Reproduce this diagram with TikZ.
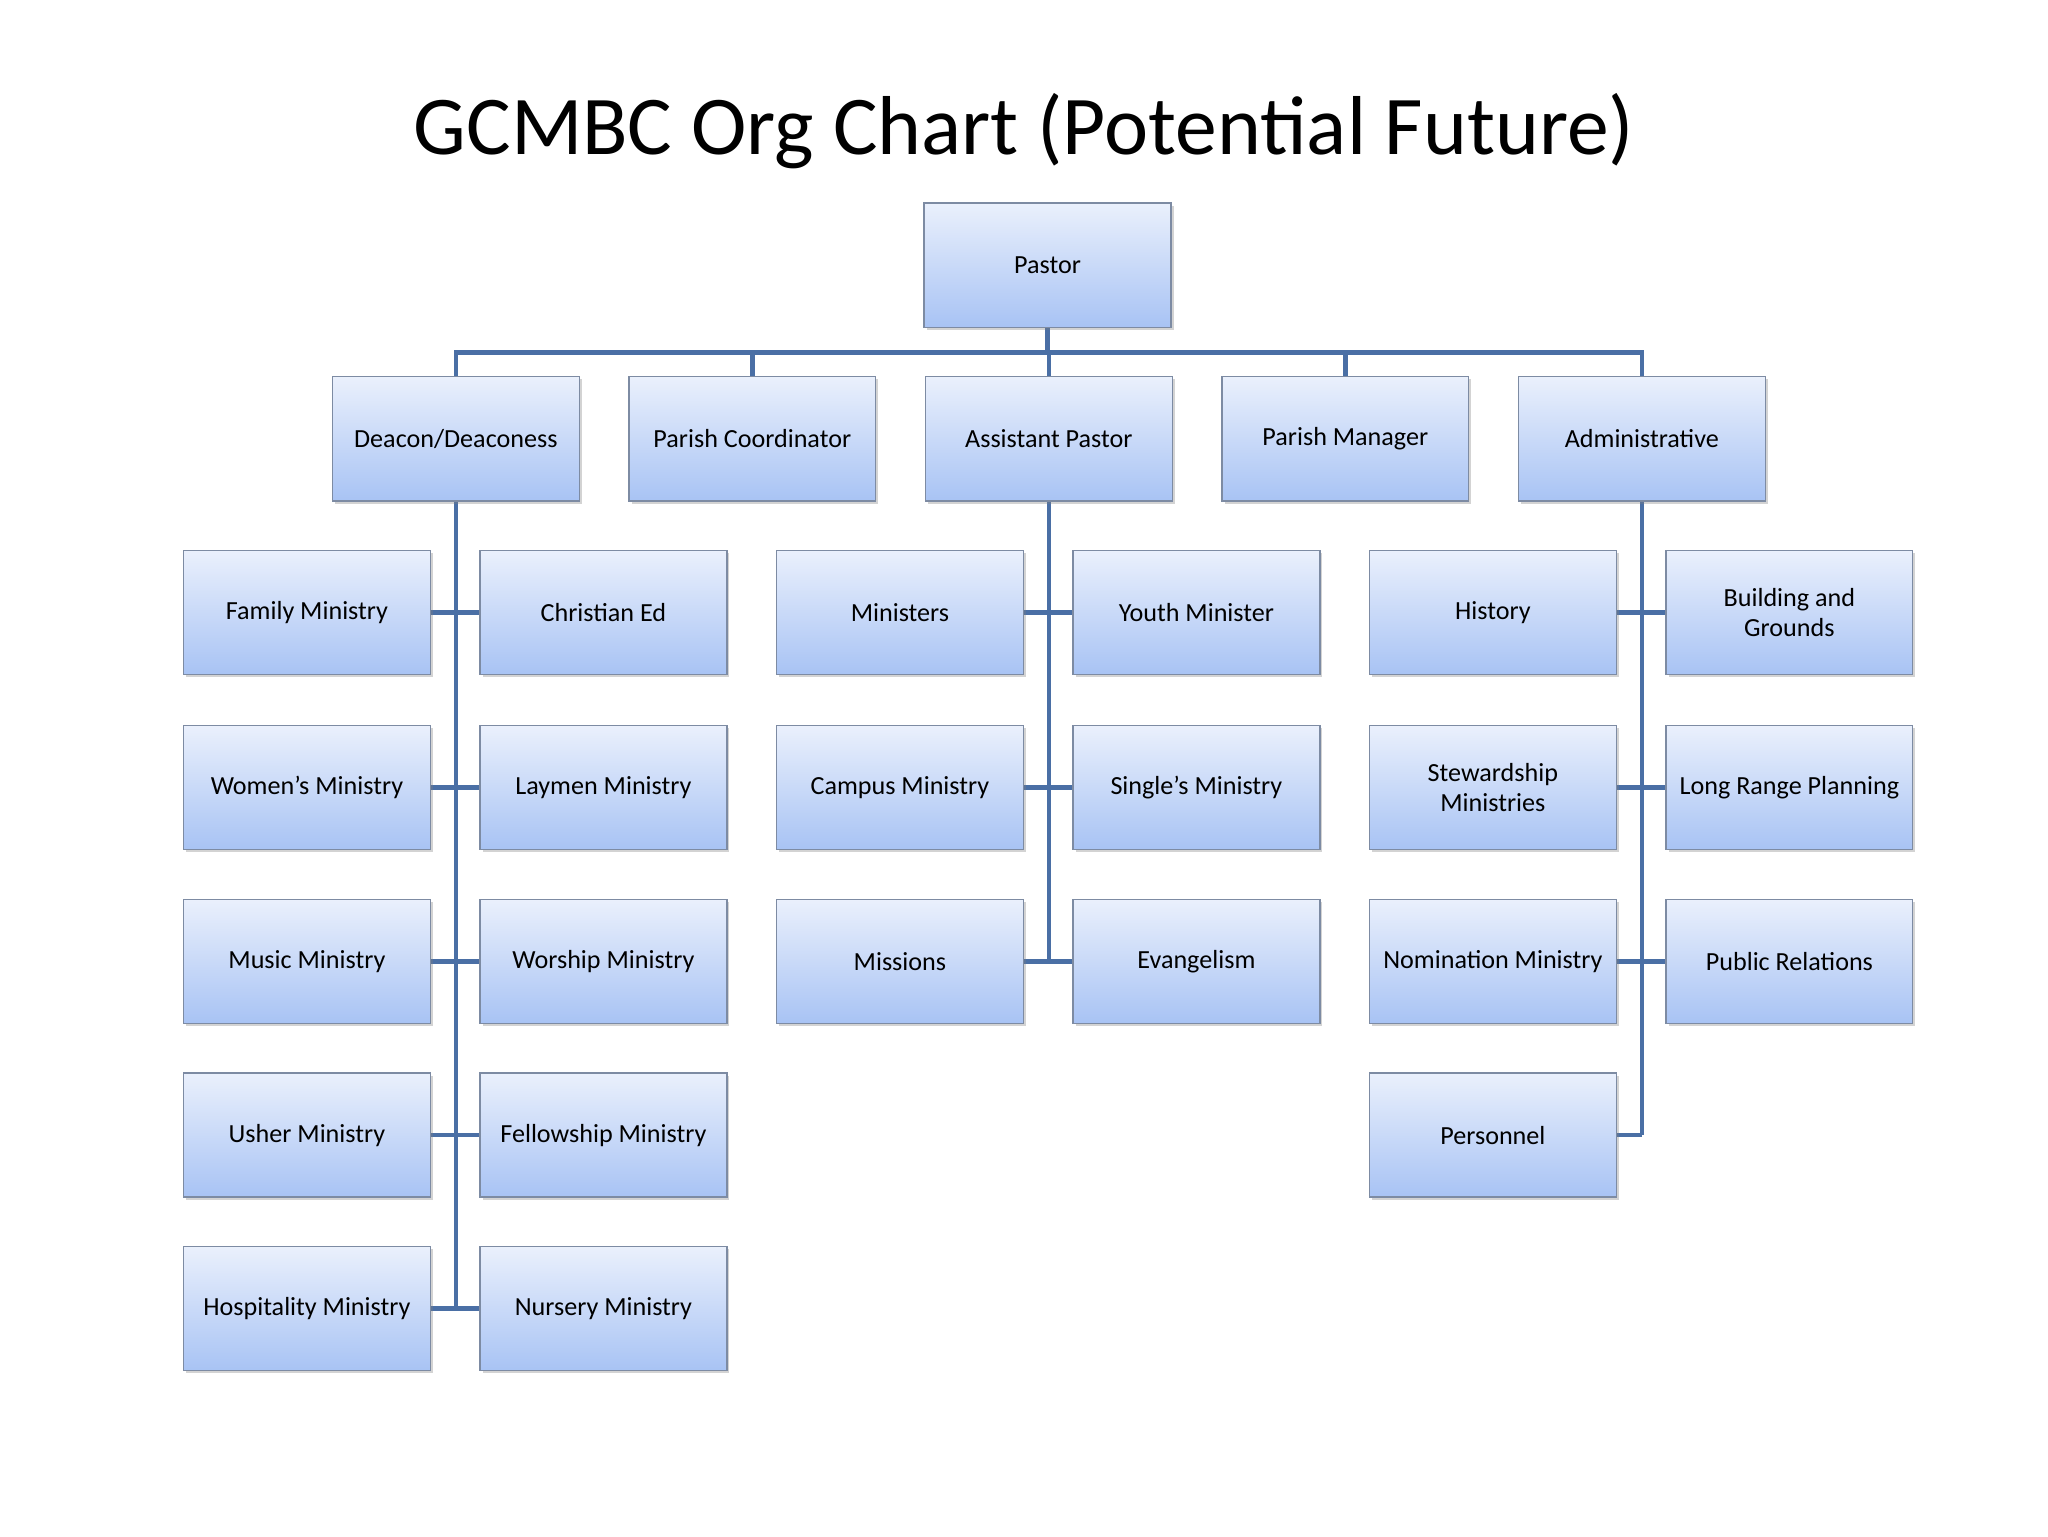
\documentclass[tikz,border=0pt]{standalone}
\usepackage{fontspec}
\setmainfont{Carlito}
\usetikzlibrary{shadows}
\definecolor{ln}{HTML}{4A6FA5}
\definecolor{bd}{HTML}{7D8BA3}
\definecolor{tp}{HTML}{EAF0FC}
\definecolor{bt}{HTML}{A8C3F4}
\tikzset{
  box/.style={draw=bd,line width=1pt,top color=tp,bottom color=bt,minimum width=189pt,minimum height=95pt,
    align=center,font=\fontsize{20}{23}\selectfont,inner sep=1pt,
    drop shadow={shadow xshift=2pt,shadow yshift=-2pt,opacity=0.35}},
  conn/.style={draw=ln,line width=3.5pt}
}
\begin{document}
\begin{tikzpicture}[x=1pt,y=-1pt]
\useasboundingbox (0,0) rectangle (1568,1176);
\node at (784,100) {\fontsize{64}{70}\selectfont GCMBC Org Chart (Potential Future)};
% connectors first
\coordinate (bus) at (802,270);
\draw[conn] (802,250) -- (802,270);
\draw[conn] (349,290) -- (349,270) -- (1257,270) -- (1257,290);
\draw[conn] (576,270) -- (576,290);
\draw[conn] (1030,270) -- (1030,290);
\draw[conn] (803,270) -- (803,290);
\draw[conn] (349,383) -- (349,1002);
\draw[conn] (803,383) -- (803,736);
\draw[conn] (1257,383) -- (1257,869);
\foreach \y in {469,603,736,869,1002} \draw[conn] (329,\y) -- (368,\y);
\foreach \y in {469,603,736} \draw[conn] (783,\y) -- (822,\y);
\foreach \y in {469,603,736} \draw[conn] (1237,\y) -- (1276,\y);
\draw[conn] (1237,869) -- (1257,869);
% boxes
\node[box] (pastor) at (802,203) {Pastor};
\node[box] (deacon) at (349,336) {Deacon/Deaconess};
\node[box] (pc) at (576,336) {Parish Coordinator};
\node[box] (ap) at (803,336) {Assistant Pastor};
\node[box] (pm) at (1030,336) {Parish Manager};
\node[box] (adm) at (1257,336) {Administrative};
\node[box] (a1) at (235,469) {Family Ministry};
\node[box] (b1) at (462,469) {Christian Ed};
\node[box] (a2) at (235,603) {Women's Ministry};
\node[box] (b2) at (462,603) {Laymen Ministry};
\node[box] (a3) at (235,736) {Music Ministry};
\node[box] (b3) at (462,736) {Worship Ministry};
\node[box] (a4) at (235,869) {Usher Ministry};
\node[box] (b4) at (462,869) {Fellowship Ministry};
\node[box] (a5) at (235,1002) {Hospitality Ministry};
\node[box] (b5) at (462,1002) {Nursery Ministry};
\node[box] (c1) at (689,469) {Ministers};
\node[box] (d1) at (916,469) {Youth Minister};
\node[box] (c2) at (689,603) {Campus Ministry};
\node[box] (d2) at (916,603) {Single’s Ministry};
\node[box] (c3) at (689,736) {Missions};
\node[box] (d3) at (916,736) {Evangelism};
\node[box] (e1) at (1143,469) {History};
\node[box] (f1) at (1370,469) {Building and\\Grounds};
\node[box] (e2) at (1143,603) {Stewardship\\Ministries};
\node[box] (f2) at (1370,603) {Long Range Planning};
\node[box] (e3) at (1143,736) {Nomination Ministry};
\node[box] (f3) at (1370,736) {Public Relations};
\node[box] (e4) at (1143,869) {Personnel};
\end{tikzpicture}
\end{document}
